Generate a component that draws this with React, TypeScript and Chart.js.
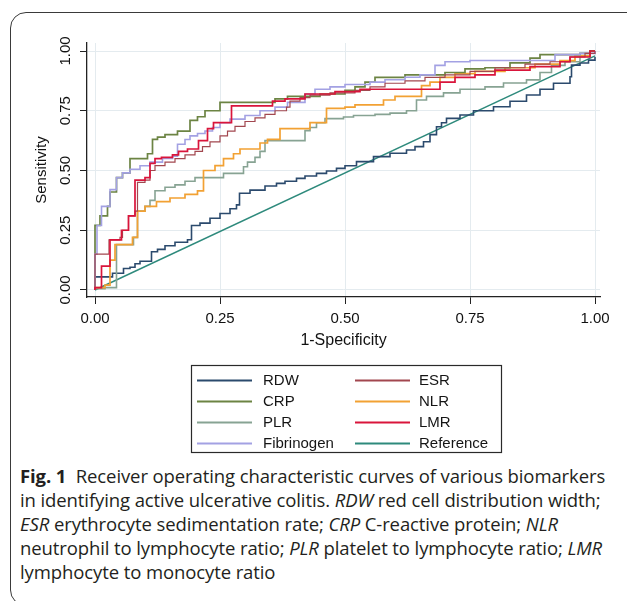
import React, { useEffect, useRef } from 'react';
import { Chart, registerables } from 'chart.js';

Chart.register(...registerables);

// ---- Data (1-Specificity, Sensitivity) staircase vertices ----
const X_TICKS = [0, 0.25, 0.5, 0.75, 1];
const Y_TICKS = [0, 0.25, 0.5, 0.75, 1];

const RDW: [number, number][] = [
  [0, 0], [0, 0.055], [0.035, 0.07], [0.057, 0.09], [0.07, 0.095], [0.08, 0.11], [0.09, 0.12],
  [0.113, 0.16], [0.125, 0.17], [0.14, 0.185], [0.16, 0.2], [0.185, 0.21], [0.193, 0.27],
  [0.21, 0.28], [0.23, 0.3], [0.25, 0.32], [0.27, 0.34], [0.283, 0.356], [0.289, 0.405],
  [0.31, 0.418], [0.34, 0.435], [0.363, 0.446], [0.38, 0.455], [0.403, 0.467], [0.42, 0.477],
  [0.443, 0.488], [0.463, 0.498], [0.483, 0.509], [0.5, 0.52], [0.523, 0.537], [0.557, 0.558],
  [0.59, 0.572], [0.623, 0.586], [0.64, 0.6], [0.657, 0.62], [0.67, 0.65], [0.683, 0.683],
  [0.693, 0.7], [0.703, 0.718], [0.73, 0.732], [0.757, 0.75], [0.797, 0.767], [0.83, 0.79],
  [0.863, 0.816], [0.89, 0.84], [0.917, 0.865], [0.95, 0.892], [0.953, 0.941], [0.97, 0.95],
  [0.987, 0.962], [1, 0.975],
];

const ESR: [number, number][] = [
  [0, 0], [0, 0.15], [0.028, 0.21], [0.05, 0.22], [0.055, 0.25], [0.067, 0.31], [0.08, 0.33],
  [0.085, 0.45], [0.1, 0.46], [0.11, 0.5], [0.12, 0.52], [0.14, 0.535], [0.16, 0.55],
  [0.18, 0.565], [0.2, 0.58], [0.215, 0.6], [0.23, 0.62], [0.25, 0.645], [0.265, 0.665],
  [0.28, 0.685], [0.3, 0.705], [0.32, 0.72], [0.34, 0.735], [0.36, 0.75], [0.383, 0.765],
  [0.39, 0.79], [0.41, 0.805], [0.43, 0.815], [0.47, 0.825], [0.52, 0.835], [0.55, 0.85],
  [0.58, 0.865], [0.62, 0.875], [0.66, 0.89], [0.7, 0.9], [0.75, 0.915], [0.8, 0.93],
  [0.86, 0.945], [0.91, 0.955], [0.95, 0.975], [0.98, 0.99], [1, 1],
];

const CRP: [number, number][] = [
  [0, 0], [0, 0.27], [0.01, 0.31], [0.025, 0.35], [0.03, 0.41], [0.043, 0.47], [0.055, 0.49],
  [0.07, 0.55], [0.105, 0.57], [0.115, 0.63], [0.125, 0.64], [0.14, 0.65], [0.165, 0.665],
  [0.19, 0.71], [0.205, 0.725], [0.22, 0.75], [0.25, 0.785], [0.36, 0.8], [0.385, 0.81],
  [0.45, 0.82], [0.5, 0.835], [0.52, 0.85], [0.54, 0.87], [0.56, 0.89], [0.62, 0.9],
  [0.7, 0.91], [0.74, 0.925], [0.78, 0.93], [0.83, 0.95], [0.87, 0.97], [0.89, 0.985],
  [0.97, 0.99], [0.99, 1], [1, 1],
];

const NLR: [number, number][] = [
  [0, 0], [0, 0.01], [0.02, 0.02], [0.03, 0.125], [0.04, 0.19], [0.075, 0.22], [0.085, 0.33],
  [0.1, 0.35], [0.123, 0.37], [0.15, 0.385], [0.18, 0.4], [0.205, 0.415], [0.217, 0.5],
  [0.24, 0.52], [0.257, 0.55], [0.277, 0.57], [0.29, 0.59], [0.33, 0.615], [0.345, 0.63],
  [0.37, 0.675], [0.43, 0.7], [0.463, 0.76], [0.5, 0.765], [0.52, 0.775], [0.577, 0.795],
  [0.6, 0.81], [0.653, 0.855], [0.67, 0.87], [0.69, 0.89], [0.72, 0.905], [0.76, 0.915],
  [0.82, 0.93], [0.88, 0.945], [0.93, 0.96], [0.96, 0.98], [0.99, 1], [1, 1],
];

const PLR: [number, number][] = [
  [0, 0], [0, 0.005], [0.02, 0.01], [0.043, 0.19], [0.077, 0.22], [0.085, 0.33], [0.1, 0.35],
  [0.11, 0.375], [0.12, 0.415], [0.14, 0.43], [0.16, 0.44], [0.18, 0.455], [0.2, 0.47],
  [0.257, 0.488], [0.297, 0.516], [0.305, 0.535], [0.32, 0.555], [0.33, 0.58], [0.34, 0.625],
  [0.42, 0.667], [0.43, 0.68], [0.443, 0.7], [0.46, 0.717], [0.497, 0.724], [0.517, 0.73],
  [0.56, 0.735], [0.59, 0.74], [0.623, 0.75], [0.643, 0.795], [0.663, 0.81], [0.697, 0.825],
  [0.73, 0.84], [0.78, 0.85], [0.817, 0.866], [0.863, 0.879], [0.89, 0.91], [0.913, 0.94],
  [0.94, 0.955], [0.97, 0.98], [0.99, 1], [1, 1],
];

const LMR: [number, number][] = [
  [0, 0], [0, 0.01], [0.013, 0.1], [0.03, 0.21], [0.053, 0.25], [0.067, 0.31], [0.08, 0.46],
  [0.1, 0.47], [0.11, 0.53], [0.12, 0.55], [0.133, 0.555], [0.155, 0.565], [0.167, 0.58],
  [0.185, 0.59], [0.207, 0.625], [0.225, 0.675], [0.237, 0.7], [0.273, 0.77], [0.355, 0.79],
  [0.38, 0.8], [0.42, 0.82], [0.48, 0.83], [0.53, 0.84], [0.69, 0.87], [0.72, 0.89],
  [0.76, 0.9], [0.8, 0.92], [0.87, 0.935], [0.93, 0.955], [0.95, 0.975], [0.99, 1], [1, 1],
];

const FIBRINOGEN: [number, number][] = [
  [0, 0], [0, 0.15], [0.004, 0.27], [0.013, 0.35], [0.03, 0.42], [0.043, 0.47], [0.055, 0.49],
  [0.07, 0.505], [0.09, 0.52], [0.11, 0.535], [0.135, 0.55], [0.155, 0.56], [0.165, 0.61],
  [0.18, 0.63], [0.19, 0.645], [0.205, 0.655], [0.22, 0.665], [0.235, 0.68], [0.25, 0.7],
  [0.27, 0.715], [0.3, 0.73], [0.33, 0.75], [0.36, 0.765], [0.385, 0.785], [0.42, 0.82],
  [0.44, 0.84], [0.47, 0.85], [0.5, 0.86], [0.55, 0.87], [0.58, 0.88], [0.62, 0.89],
  [0.65, 0.9], [0.68, 0.94], [0.7, 0.955], [0.75, 0.96], [0.88, 0.96], [0.92, 0.985],
  [0.97, 0.99], [1, 1],
];

const REFERENCE: [number, number][] = [[0, 0], [1, 0.98]];

const LEGEND_ORDER = ['RDW', 'ESR', 'CRP', 'NLR', 'PLR', 'LMR', 'Fibrinogen', 'Reference'];

// ---- Styles ----
const SERIES = [
  { label: 'LMR', data: LMR, color: '#d9153b', width: 1.7, stepped: true },
  { label: 'ESR', data: ESR, color: '#a2474f', width: 1.2, stepped: true },
  { label: 'Fibrinogen', data: FIBRINOGEN, color: '#a3a1e3', width: 1.6, stepped: true },
  { label: 'CRP', data: CRP, color: '#6c8443', width: 1.7, stepped: true },
  { label: 'NLR', data: NLR, color: '#f2a133', width: 1.7, stepped: true },
  { label: 'PLR', data: PLR, color: '#87a393', width: 1.6, stepped: true },
  { label: 'RDW', data: RDW, color: '#2b4a6d', width: 1.6, stepped: true },
  { label: 'Reference', data: REFERENCE, color: '#2e8a7c', width: 1.4, stepped: false },
];

const FONT = '"Liberation Sans", Arial, sans-serif';

const legendPlugin = {
  id: 'boxLegend',
  afterDraw(chart: any) {
    const ctx = chart.ctx as CanvasRenderingContext2D;
    ctx.save();
    ctx.strokeStyle = '#2a2a2a';
    ctx.lineWidth = 1.2;
    ctx.strokeRect(191.5, 365.5, 310, 87);
    ctx.font = `15px ${FONT}`;
    ctx.textBaseline = 'middle';
    ctx.textAlign = 'left';
    LEGEND_ORDER.forEach((label, i) => {
      const ds = chart.data.datasets.find((d: any) => d.label === label);
      const col = i % 2;
      const row = Math.floor(i / 2);
      const y = 380 + row * 21;
      const lx = col === 0 ? 197 : 355;
      ctx.strokeStyle = ds ? ds.borderColor : '#000';
      ctx.lineWidth = 2;
      ctx.beginPath();
      ctx.moveTo(lx, y + 0.5);
      ctx.lineTo(lx + 55, y + 0.5);
      ctx.stroke();
      ctx.fillStyle = '#151515';
      ctx.fillText(label, col === 0 ? 263 : 419, y + 1);
    });
    ctx.restore();
  },
};

export default function App() {
  const canvasRef = useRef<HTMLCanvasElement | null>(null);

  useEffect(() => {
    if (!canvasRef.current) return;
    const chart = new Chart(canvasRef.current, {
      type: 'line',
      data: {
        datasets: SERIES.map((s) => ({
          label: s.label,
          data: s.data.map(([x, y]) => ({ x, y })),
          borderColor: s.color,
          backgroundColor: s.color,
          borderWidth: s.width,
          stepped: s.stepped ? 'before' : false,
          pointRadius: 0,
          pointHoverRadius: 0,
          fill: false,
          tension: 0,
        })),
      },
      options: {
        responsive: false,
        animation: false,
        events: [],
        layout: { padding: { left: 20, top: 43, right: 27, bottom: 107 } },
        plugins: {
          legend: { display: false },
          tooltip: { enabled: false },
          title: { display: false },
        },
        scales: {
          x: {
            type: 'linear',
            min: -0.016,
            max: 1.01,
            afterBuildTicks: (scale: any) => {
              scale.ticks = X_TICKS.map((v) => ({ value: v }));
            },
            afterFit: (scale: any) => {
              scale.height = 56;
            },
            ticks: {
              callback: (v: any) => Number(v).toFixed(2),
              font: { family: FONT, size: 15 },
              color: '#111',
              padding: 6,
              maxRotation: 0,
              autoSkip: false,
            },
            grid: {
              color: '#e4ebef',
              lineWidth: 1,
              tickColor: '#222',
              tickLength: 7,
              drawTicks: true,
            },
            border: { display: true, color: '#222', width: 1.3 },
            title: {
              display: true,
              text: '1-Specificity',
              font: { family: FONT, size: 16 },
              color: '#111',
              padding: { top: 0, bottom: 3 },
            },
          },
          y: {
            type: 'linear',
            min: -0.0293,
            max: 1.0335,
            afterBuildTicks: (scale: any) => {
              scale.ticks = Y_TICKS.map((v) => ({ value: v }));
            },
            afterFit: (scale: any) => {
              scale.width = 67;
            },
            ticks: {
              callback: (v: any) => Number(v).toFixed(2),
              font: { family: FONT, size: 15 },
              color: '#111',
              padding: 0,
              minRotation: 90,
              maxRotation: 90,
              crossAlign: 'center',
              autoSkip: false,
            },
            grid: {
              color: '#e4ebef',
              lineWidth: 1,
              tickColor: '#222',
              tickLength: 7,
              drawTicks: true,
            },
            border: { display: true, color: '#222', width: 1.3 },
            title: {
              display: true,
              text: 'Sensitivity',
              font: { family: FONT, size: 15 },
              color: '#111',
              padding: { top: 13, bottom: 0 },
            },
          },
        },
      },
      plugins: [legendPlugin],
    } as any);
    return () => chart.destroy();
  }, []);

  return (
    <div style={{ position: 'absolute', left: 0, top: 0, width: 627, height: 601, overflow: 'hidden', background: '#fff' }}>
      <div
        style={{
          position: 'absolute',
          left: 10,
          top: 12,
          width: 660,
          height: 594,
          border: '1px solid #3a3a3a',
          borderRadius: 16,
          boxSizing: 'border-box',
        }}
      />
      <canvas
        ref={canvasRef}
        width={627}
        height={460}
        style={{ position: 'absolute', left: 0, top: 0, width: 627, height: 460 }}
      />
      <div
        style={{
          position: 'absolute',
          left: 20,
          top: 464,
          fontFamily: '"Open Sans", "Noto Sans", sans-serif',
          fontSize: 18.5,
          lineHeight: '24px',
          letterSpacing: '-0.1px',
          color: '#231f20',
          whiteSpace: 'nowrap',
        }}
      >
        <b>Fig. 1</b>&nbsp; Receiver operating characteristic curves of various biomarkers
        <br />
        in identifying active ulcerative colitis. <i>RDW</i> red cell distribution width;
        <br />
        <i>ESR</i> erythrocyte sedimentation rate; <i>CRP</i> C-reactive protein; <i>NLR</i>
        <br />
        neutrophil to lymphocyte ratio; <i>PLR</i> platelet to lymphocyte ratio; <i>LMR</i>
        <br />
        lymphocyte to monocyte ratio
      </div>
    </div>
  );
}
